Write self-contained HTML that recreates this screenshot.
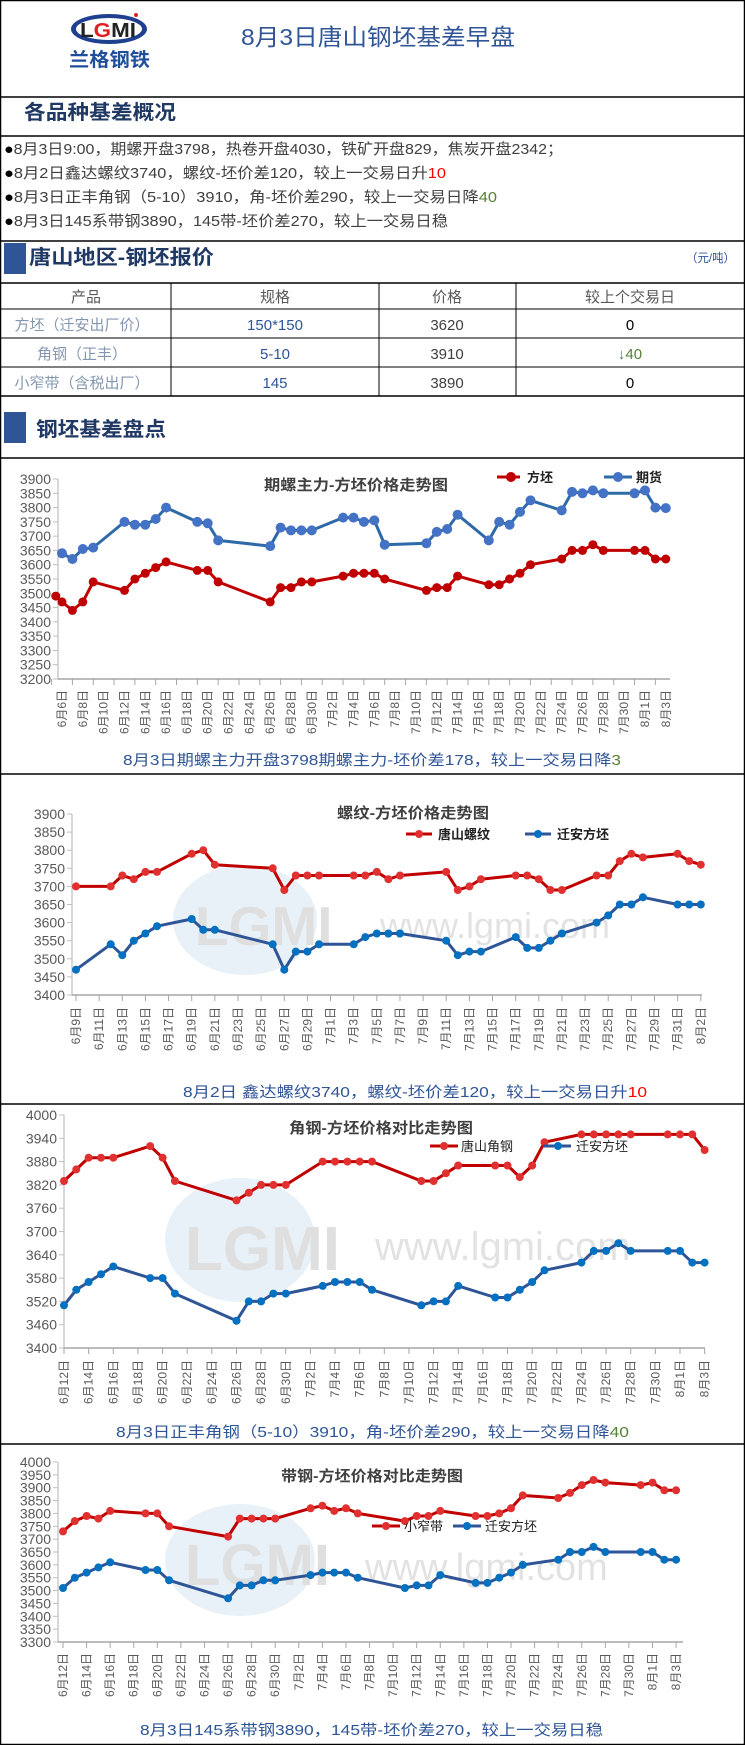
<!DOCTYPE html>
<html><head><meta charset="utf-8">
<style>
html,body{margin:0;padding:0;background:#fff;}
svg{display:block;}
text{font-family:"Liberation Sans","Noto Sans CJK SC",sans-serif;}
</style></head>
<body>
<svg id="s" width="745" height="1745" viewBox="0 0 745 1745" xmlns="http://www.w3.org/2000/svg">
<rect x="0.5" y="0.5" width="744" height="1744" fill="#fff" stroke="#000" stroke-width="1.5"/>
<g stroke="#000" stroke-width="1.5">
<line x1="0" y1="97" x2="745" y2="97"/>
<line x1="0" y1="136" x2="745" y2="136"/>
<line x1="0" y1="241" x2="745" y2="241"/>
<line x1="0" y1="283" x2="745" y2="283"/>
<line x1="0" y1="396" x2="745" y2="396"/>
<line x1="0" y1="458" x2="745" y2="458"/>
<line x1="0" y1="774" x2="745" y2="774"/>
<line x1="0" y1="1104" x2="745" y2="1104"/>
<line x1="0" y1="1444" x2="745" y2="1444"/>
</g>
<g stroke="#000" stroke-width="1">
<line x1="0" y1="309" x2="745" y2="309"/>
<line x1="0" y1="338" x2="745" y2="338"/>
<line x1="0" y1="367" x2="745" y2="367"/>
<line x1="171" y1="283" x2="171" y2="396"/>
<line x1="379" y1="283" x2="379" y2="396"/>
<line x1="516" y1="283" x2="516" y2="396"/>
</g>
<!-- logo -->
<ellipse cx="109" cy="29" rx="38" ry="15" fill="#1f3f8f"/>
<ellipse cx="109" cy="29" rx="33" ry="11" fill="#fff"/>
<text x="80" y="37" font-size="20" font-weight="bold" fill="#222" textLength="56" lengthAdjust="spacingAndGlyphs">L<tspan fill="#e02020">G</tspan>MI</text>
<circle cx="136" cy="15" r="2" fill="#e02020"/>
<text x="69" y="66" font-size="19" font-weight="bold" fill="#1f4e9a" textLength="81" lengthAdjust="spacingAndGlyphs">兰格钢铁</text>
<text x="241" y="45" font-size="23" fill="#2f5597" textLength="274" lengthAdjust="spacingAndGlyphs">8月3日唐山钢坯基差早盘</text>
<text x="24" y="119" font-size="20" font-weight="bold" fill="#1f3864" textLength="152" lengthAdjust="spacingAndGlyphs">各品种基差概况</text>
<g font-size="15" fill="#404040">
<text x="4" y="154" textLength="559" lengthAdjust="spacingAndGlyphs"><tspan fill="#000">●</tspan>8月3日9:00，期螺开盘3798，热卷开盘4030，铁矿开盘829，焦炭开盘2342；</text>
<text x="4" y="178" textLength="442" lengthAdjust="spacingAndGlyphs"><tspan fill="#000">●</tspan>8月2日鑫达螺纹3740，螺纹-坯价差120，较上一交易日升<tspan fill="#ff0000">10</tspan></text>
<text x="4" y="202" textLength="493" lengthAdjust="spacingAndGlyphs"><tspan fill="#000">●</tspan>8月3日正丰角钢（5-10）3910，角-坯价差290，较上一交易日降<tspan fill="#548235">40</tspan></text>
<text x="4" y="226" textLength="444" lengthAdjust="spacingAndGlyphs"><tspan fill="#000">●</tspan>8月3日145系带钢3890，145带-坯价差270，较上一交易日稳</text>
</g>
<rect x="4" y="243" width="22" height="31" fill="#2f5597"/>
<text x="29" y="264" font-size="20" font-weight="bold" fill="#1f3864" textLength="185" lengthAdjust="spacingAndGlyphs">唐山地区-钢坯报价</text>
<text x="686" y="262" font-size="12" fill="#2f5597" textLength="49" lengthAdjust="spacingAndGlyphs">（元/吨）</text>
<g font-size="15" text-anchor="middle">
<text x="86" y="302" fill="#595959">产品</text>
<text x="275" y="302" fill="#595959">规格</text>
<text x="447" y="302" fill="#595959">价格</text>
<text x="630" y="302" fill="#595959">较上个交易日</text>
<text x="82" y="330" fill="#8497b0">方坯（迁安出厂价）</text>
<text x="275" y="330" fill="#2f5597">150*150</text>
<text x="447" y="330" fill="#404040">3620</text>
<text x="630" y="330" fill="#000">0</text>
<text x="82" y="359" fill="#8497b0">角钢（正丰）</text>
<text x="275" y="359" fill="#2f5597">5-10</text>
<text x="447" y="359" fill="#404040">3910</text>
<text x="630" y="359" fill="#548235">↓40</text>
<text x="82" y="388" fill="#8497b0">小窄带（含税出厂）</text>
<text x="275" y="388" fill="#2f5597">145</text>
<text x="447" y="388" fill="#404040">3890</text>
<text x="630" y="388" fill="#000">0</text>
</g>
<rect x="4" y="412" width="22" height="31" fill="#2f5597"/>
<text x="36" y="436" font-size="20" font-weight="bold" fill="#1f3864" textLength="130" lengthAdjust="spacingAndGlyphs">钢坯基差盘点</text>

<!-- watermarks -->
<g opacity="0.4">
<ellipse cx="245" cy="920" rx="72" ry="55" fill="#c7dbee"/>
<text x="195" y="945" font-size="55" fill="#b0b0b0" font-weight="bold">LGMI</text>
<text x="380" y="938" font-size="36" fill="#b8b8b8" font-family="Liberation Serif">www.lgmi.com</text>
<ellipse cx="240" cy="1240" rx="75" ry="62" fill="#c7dbee"/>
<text x="185" y="1270" font-size="62" fill="#b0b0b0" font-weight="bold">LGMI</text>
<text x="375" y="1260" font-size="40" fill="#b8b8b8" font-family="Liberation Serif">www.lgmi.com</text>
<ellipse cx="240" cy="1560" rx="75" ry="56" fill="#c7dbee"/>
<text x="185" y="1585" font-size="58" fill="#b0b0b0" font-weight="bold">LGMI</text>
<text x="365" y="1580" font-size="38" fill="#b8b8b8" font-family="Liberation Serif">www.lgmi.com</text>
</g>

<g id="charts"></g>

<g font-size="15" fill="#2f5597">
<text x="123" y="765" textLength="498" lengthAdjust="spacingAndGlyphs">8月3日期螺主力开盘3798期螺主力-坯价差178，较上一交易日降<tspan fill="#548235">3</tspan></text>
<text x="183" y="1097" textLength="464" lengthAdjust="spacingAndGlyphs">8月2日 鑫达螺纹3740，螺纹-坯价差120，较上一交易日升<tspan fill="#ff0000">10</tspan></text>
<text x="116" y="1437" textLength="513" lengthAdjust="spacingAndGlyphs">8月3日正丰角钢（5-10）3910，角-坯价差290，较上一交易日降<tspan fill="#548235">40</tspan></text>
<text x="140" y="1735" textLength="463" lengthAdjust="spacingAndGlyphs">8月3日145系带钢3890，145带-坯价差270，较上一交易日稳</text>
</g>
<g font-size="15" font-weight="bold" fill="#404040">
<text x="264" y="490" textLength="184" lengthAdjust="spacingAndGlyphs">期螺主力-方坯价格走势图</text>
<text x="337" y="818" textLength="152" lengthAdjust="spacingAndGlyphs">螺纹-方坯价格走势图</text>
<text x="289" y="1133" textLength="184" lengthAdjust="spacingAndGlyphs">角钢-方坯价格对比走势图</text>
<text x="281" y="1481" textLength="182" lengthAdjust="spacingAndGlyphs">带钢-方坯价格对比走势图</text>
</g>
<g font-size="13" font-weight="bold" fill="#222">
<line x1="497" y1="477" x2="520" y2="477" stroke="#c00000" stroke-width="3"/><circle cx="511" cy="477" r="5" fill="#c00000"/>
<text x="527" y="482">方坯</text>
<line x1="604" y1="477" x2="632" y2="477" stroke="#2e6aa8" stroke-width="3"/><circle cx="618" cy="477" r="5" fill="#4472c4"/>
<text x="636" y="482">期货</text>
<line x1="406" y1="834" x2="432" y2="834" stroke="#c00000" stroke-width="3"/><circle cx="419" cy="834" r="4" fill="#e03030"/>
<text x="438" y="839">唐山螺纹</text>
<line x1="525" y1="834" x2="551" y2="834" stroke="#2f5597" stroke-width="3"/><circle cx="538" cy="834" r="4" fill="#0070c0"/>
<text x="557" y="839">迁安方坯</text>
</g>
<g font-size="13" fill="#222">
<line x1="430" y1="1146" x2="458" y2="1146" stroke="#c00000" stroke-width="3"/><circle cx="444" cy="1146" r="4" fill="#e03030"/>
<text x="461" y="1151">唐山角钢</text>
<line x1="543" y1="1146" x2="571" y2="1146" stroke="#2f5597" stroke-width="3"/><circle cx="558" cy="1146" r="4" fill="#0070c0"/>
<text x="576" y="1151">迁安方坯</text>
<line x1="372" y1="1526" x2="400" y2="1526" stroke="#c00000" stroke-width="3"/><circle cx="386" cy="1526" r="4" fill="#e03030"/>
<text x="404" y="1531">小窄带</text>
<line x1="453" y1="1526" x2="481" y2="1526" stroke="#2f5597" stroke-width="3"/><circle cx="467" cy="1526" r="4" fill="#0070c0"/>
<text x="485" y="1531">迁安方坯</text>
</g>
</svg>
<script>
var L1=["6月6日","6月8日","6月10日","6月12日","6月14日","6月16日","6月18日","6月20日","6月22日","6月24日","6月26日","6月28日","6月30日","7月2日","7月4日","7月6日","7月8日","7月10日","7月12日","7月14日","7月16日","7月18日","7月20日","7月22日","7月24日","7月26日","7月28日","7月30日","8月1日","8月3日"];
var L2=["6月9日","6月11日","6月13日","6月15日","6月17日","6月19日","6月21日","6月23日","6月25日","6月27日","6月29日","7月1日","7月3日","7月5日","7月7日","7月9日","7月11日","7月13日","7月15日","7月17日","7月19日","7月21日","7月23日","7月25日","7月27日","7月29日","7月31日","8月2日"];
var L3=["6月12日","6月14日","6月16日","6月18日","6月20日","6月22日","6月24日","6月26日","6月28日","6月30日","7月2日","7月4日","7月6日","7月8日","7月10日","7月12日","7月14日","7月16日","7月18日","7月20日","7月22日","7月24日","7月26日","7月28日","7月30日","8月1日","8月3日"];
var fp=[[12,3510],[13,3550],[14,3570],[15,3590],[16,3610],[19,3580],[20,3580],[21,3540],[26,3470],[27,3520],[28,3520],[29,3540],[30,3540],[33,3560],[34,3570],[35,3570],[36,3570],[37,3550],[41,3510],[42,3520],[43,3520],[44,3560],[47,3530],[48,3530],[49,3550],[50,3570],[51,3600],[54,3620],[55,3650],[56,3650],[57,3670],[58,3650],[61,3650],[62,3650],[63,3620],[64,3620]];
var c1r=[[6,3470],[7,3440],[8,3470],[9,3540]].concat(fp);
var c1b=[[6,3640],[7,3620],[8,3655],[9,3660],[12,3750],[13,3740],[14,3740],[15,3760],[16,3800],[19,3750],[20,3745],[21,3685],[26,3665],[27,3730],[28,3720],[29,3720],[30,3720],[33,3765],[34,3765],[35,3750],[36,3755],[37,3670],[41,3675],[42,3715],[43,3725],[44,3775],[47,3685],[48,3750],[49,3740],[50,3785],[51,3825],[54,3790],[55,3855],[56,3850],[57,3860],[58,3850],[61,3850],[62,3860],[63,3800],[64,3798]];
var c2r=[[9,3700],[12,3700],[13,3730],[14,3720],[15,3740],[16,3740],[19,3790],[20,3800],[21,3760],[26,3750],[27,3690],[28,3730],[29,3730],[30,3730],[33,3730],[34,3730],[35,3740],[36,3720],[37,3730],[41,3740],[42,3690],[43,3700],[44,3720],[47,3730],[48,3730],[49,3720],[50,3690],[51,3690],[54,3730],[55,3730],[56,3770],[57,3790],[58,3780],[61,3790],[62,3770],[63,3760]];
var c2b=[[9,3470],[12,3540],[13,3510],[14,3550],[15,3570],[16,3590],[19,3610],[20,3580],[21,3580],[26,3540],[27,3470],[28,3520],[29,3520],[30,3540],[33,3540],[34,3560],[35,3570],[36,3570],[37,3570],[41,3550],[42,3510],[43,3520],[44,3520],[47,3560],[48,3530],[49,3530],[50,3550],[51,3570],[54,3600],[55,3620],[56,3650],[57,3650],[58,3670],[61,3650],[62,3650],[63,3650]];
var c3r=[[12,3830],[13,3860],[14,3890],[15,3890],[16,3890],[19,3920],[20,3890],[21,3830],[26,3780],[27,3800],[28,3820],[29,3820],[30,3820],[33,3880],[34,3880],[35,3880],[36,3880],[37,3880],[41,3830],[42,3830],[43,3850],[44,3870],[47,3870],[48,3870],[49,3840],[50,3870],[51,3930],[54,3950],[55,3950],[56,3950],[57,3950],[58,3950],[61,3950],[62,3950],[63,3950],[64,3910]];
var c4r=[[12,3730],[13,3770],[14,3790],[15,3780],[16,3810],[19,3800],[20,3800],[21,3750],[26,3710],[27,3780],[28,3780],[29,3780],[30,3780],[33,3820],[34,3830],[35,3810],[36,3820],[37,3800],[41,3770],[42,3790],[43,3790],[44,3810],[47,3790],[48,3790],[49,3800],[50,3820],[51,3870],[54,3860],[55,3880],[56,3910],[57,3930],[58,3920],[61,3910],[62,3920],[63,3890],[64,3890]];
var out="";
function chart(c){
  var X=function(d){return c.x0+(d-c.d0)*c.dx;};
  var Y=function(v){return c.yb-(v-c.vmin)/(c.vmax-c.vmin)*(c.yb-c.yt);};
  out+='<line x1="'+c.ax+'" y1="'+c.yt+'" x2="'+c.ax+'" y2="'+c.yb+'" stroke="#bfbfbf" stroke-width="1.2"/>';
  out+='<line x1="'+c.ax+'" y1="'+c.yb+'" x2="'+c.axr+'" y2="'+c.yb+'" stroke="#a6a6a6" stroke-width="1.5"/>';
  for(var v=c.vmin;v<=c.vmax+0.01;v+=c.step){
    var y=Y(v);
    out+='<line x1="'+(c.ax-5)+'" y1="'+y+'" x2="'+c.ax+'" y2="'+y+'" stroke="#bfbfbf"/>';
    out+='<text x="'+(c.ax-7)+'" y="'+(y+5)+'" font-size="14" fill="#595959" text-anchor="end">'+v+'</text>';
  }
  for(var i=0;i<c.labels.length;i++){
    var x=X(c.d0+2*i);
    var tx=c.tickOff?x-c.dx:x;
    out+='<line x1="'+tx+'" y1="'+c.yb+'" x2="'+tx+'" y2="'+(c.yb+6)+'" stroke="#a6a6a6"/>';
    out+='<text transform="translate('+(x+4)+','+c.ly+') rotate(-90)" font-size="12" fill="#595959" text-anchor="end">'+c.labels[i]+'</text>';
  }
  c.series.forEach(function(s){
    var pts=s.d.map(function(p){return X(p[0]).toFixed(1)+','+Y(p[1]).toFixed(1);}).join(' ');
    out+='<polyline points="'+pts+'" fill="none" stroke="'+s.lc+'" stroke-width="3" stroke-linejoin="round"/>';
    s.d.forEach(function(p){out+='<circle cx="'+X(p[0]).toFixed(1)+'" cy="'+Y(p[1]).toFixed(1)+'" r="'+s.r+'" fill="'+s.mc+'"/>';});
  });
}
chart({x0:62,d0:6,dx:10.41,yt:479,yb:679,vmin:3200,vmax:3900,step:50,ax:58,axr:670,ly:690,labels:L1,tickOff:true,
  series:[{d:[[5.4,3490]].concat(c1r),lc:"#c00000",mc:"#c00000",r:4.5},{d:c1b,lc:"#2e6aa8",mc:"#4472c4",r:5}]});
chart({x0:76,d0:9,dx:11.57,yt:814,yb:995,vmin:3400,vmax:3900,step:50,ax:72,axr:702,ly:1007,labels:L2,tickOff:false,
  series:[{d:c2r,lc:"#c00000",mc:"#e03030",r:4},{d:c2b,lc:"#2f5597",mc:"#0070c0",r:4}]});
chart({x0:64,d0:12,dx:12.32,yt:1115,yb:1348,vmin:3400,vmax:4000,step:60,ax:64,axr:705,ly:1360,labels:L3,tickOff:false,
  series:[{d:c3r,lc:"#c00000",mc:"#e03030",r:4},{d:fp,lc:"#2f5597",mc:"#0070c0",r:4}]});
chart({x0:63,d0:12,dx:11.79,yt:1462,yb:1642,vmin:3300,vmax:4000,step:50,ax:58,axr:683,ly:1653,labels:L3,tickOff:false,
  series:[{d:c4r,lc:"#c00000",mc:"#e03030",r:4},{d:fp,lc:"#2f5597",mc:"#0070c0",r:4}]});
document.getElementById("charts").innerHTML=out;
</script>
</body></html>
